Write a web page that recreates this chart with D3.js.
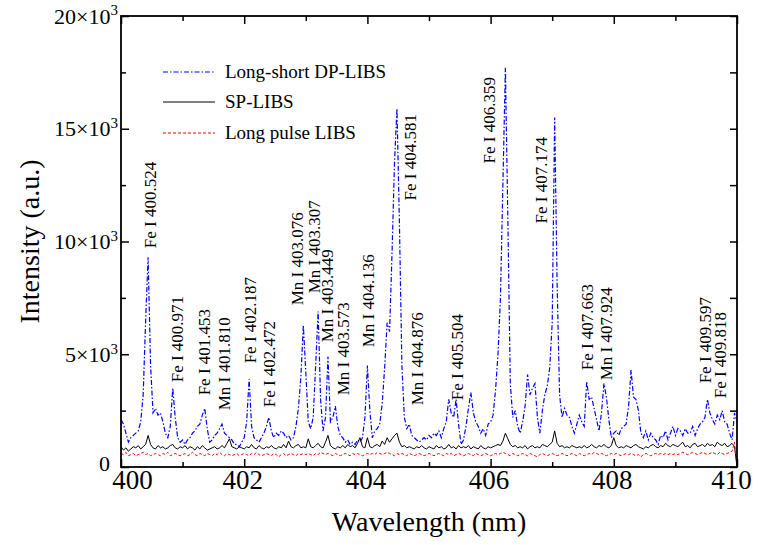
<!DOCTYPE html>
<html><head><meta charset="utf-8">
<script src="https://cdn.jsdelivr.net/npm/d3@7"></script>
<style>
body{margin:0;background:#fff}
svg{display:block}
</style>
</head><body>
<svg id="c" width="758" height="545" style="font-family:'Liberation Serif','DejaVu Serif',serif"></svg>
<script>
// ---- data (wavelength grid: 400.00 .. 410.00 nm, step 0.04 nm; one row = 1 nm) ----
const wlStart = 400, wlStep = 0.04;

const dpLibs = [ // Long-short DP-LIBS
2100,1900,1500,1100,1300,1400,1500,1600,2000,3200,6500,9300,4500,2400,2600,2300,2400,2000,1500,1300,1800,3500,2200,1300,1100,
1200,1000,1200,1300,1500,1600,1800,1900,2300,2600,1700,1100,1200,1400,1500,1700,1900,1500,1400,1300,1200,1000,1000,900,1100,
1300,2000,3900,1800,1300,1200,1100,1300,1500,1800,2200,1600,1300,1500,1400,1600,1500,1300,1400,1200,1300,1800,2600,4000,6300,
4200,2000,1700,2200,4500,6900,3000,1600,2200,4900,2000,2200,2700,1800,1400,1300,1100,1200,1000,1100,1000,1200,1100,1300,2200,
4500,2500,1300,1600,1700,1900,2800,4400,6400,6000,9500,13500,15900,10800,4500,2200,1700,1900,1400,1300,1200,1100,1200,1300,1200,
1400,1300,1500,1400,1600,1300,1700,2000,3000,2400,2200,3000,1900,1000,1200,1800,2600,3300,2400,2000,1800,1500,1700,1400,1900,
2000,2300,3400,5000,7500,12600,17700,11000,3700,2200,2500,1800,1500,2000,2700,4100,3200,3500,3700,2200,1500,2500,3200,3600,4400,
6400,15500,8100,3200,2200,2600,2300,2200,1800,1500,1900,2300,2000,1800,3800,3000,3100,2600,2100,1600,2400,3700,3100,2100,1300,
1500,1600,1400,1700,1800,1900,2700,4300,3100,3000,2500,1500,1300,1600,1200,1500,1300,1200,1000,1400,1300,1600,1200,1500,1800,
1400,1700,1600,1400,1700,1500,1500,1800,1400,1700,1900,2000,2200,3000,2400,2100,1900,2300,2100,2500,2000,1900,1500,1200,2400,
2000];

const spLibs = [ // SP-LIBS
900,750,850,700,800,900,850,950,800,900,1000,1400,1000,850,800,950,850,900,800,850,950,1000,850,800,900,
850,950,800,900,850,750,900,800,950,850,750,800,850,900,800,850,950,850,1050,1250,900,850,800,900,850,
800,900,850,1000,850,800,950,850,800,900,850,950,850,800,900,850,1000,850,1150,900,850,950,1000,850,900,
850,1250,900,850,950,1050,900,850,1100,1400,950,850,800,900,850,950,850,1000,900,950,850,1050,1300,900,850,
1300,900,850,950,1000,900,1150,1000,1300,1100,1250,1400,1500,1100,900,950,850,900,850,800,900,850,950,850,800,
900,850,800,950,850,900,800,850,1000,850,900,800,950,850,900,850,950,800,900,850,800,950,850,800,900,
850,900,950,1000,950,1150,1500,1250,1000,900,950,850,900,850,950,800,900,950,850,900,850,1000,950,900,1000,
1100,1600,1050,900,950,850,900,850,950,900,850,900,850,950,850,900,1000,900,850,950,900,1000,900,850,950,
1300,950,850,900,850,950,900,850,950,1000,900,850,800,900,850,950,1000,900,850,950,900,1050,950,900,1000,
950,900,1000,1100,900,950,850,1000,1050,900,950,1000,900,1050,950,1000,900,1100,1000,950,1050,900,950,1050,900,
0];

const longPulse = [ // Long pulse LIBS
600,550,650,500,550,600,500,550,600,650,550,600,500,550,600,550,500,600,550,650,500,550,600,550,500,
550,600,500,550,650,550,500,600,550,500,600,550,500,600,550,650,550,500,600,550,500,550,600,500,550,
600,550,500,600,550,650,550,500,550,600,550,500,600,550,450,550,600,500,550,600,550,500,600,550,600,
550,600,550,500,600,550,650,600,550,600,550,500,600,550,500,550,600,550,500,600,550,600,550,500,550,
600,550,600,550,650,600,550,600,650,600,550,500,600,550,600,550,500,600,550,500,550,600,550,500,550,
600,550,500,550,600,550,500,600,550,600,500,550,600,550,500,550,600,550,500,600,550,500,550,600,550,
500,550,600,550,600,650,600,550,500,600,550,500,550,600,550,500,600,550,500,450,550,600,550,500,550,
600,550,500,550,600,550,500,550,600,550,500,600,550,500,550,600,550,650,600,550,600,550,500,550,600,
550,600,550,500,550,600,550,600,550,500,550,450,550,600,550,500,550,600,550,600,550,600,550,600,550,
600,550,600,650,600,550,600,650,600,550,600,650,600,550,600,650,600,550,650,600,550,600,650,700,1100,
0];

const seriesNames = ["Long-short DP-LIBS", "SP-LIBS", "Long pulse LIBS"];
const xTicks = [400, 402, 404, 406, 408, 410];
const xMinorTicks = [401, 403, 405, 407, 409];
const yTicks = [0, 5000, 10000, 15000, 20000];
const yMinorTicks = [2500, 7500, 12500, 17500];

const lineLabels = ["Fe I 400.524","Fe I 400.971","Fe I 401.453","Mn I 401.810","Fe I 402.187","Fe I 402.472",
  "Mn I 403.076","Mn I 403.307","Mn I 403.449","Mn I 403.573","Mn I 404.136","Fe I 404.581","Mn I 404.876",
  "Fe I 405.504","Fe I 406.359","Fe I 407.174","Fe I 407.663","Mn I 407.924","Fe I 409.597","Fe I 409.818"];

// ---- layout (label anchors in data coordinates) ----
const labelAnchorWl = [400.568,401.006,401.445,401.769,402.192,402.500,402.955,403.231,403.442,403.701,404.107,
  404.789,404.903,405.552,406.071,406.916,407.662,407.971,409.578,409.821];
const labelAnchorI = [9700,3755,3178,2513,4597,2647,7168,7700,5528,3178,5307,11823,2735,2957,13463,10803,4287,3843,3710,3046];

const FONT = "'Liberation Serif','DejaVu Serif',serif";
const M = {l:121, t:16, r:737, b:467};
const svg = d3.select("#c");
const x = d3.scaleLinear().domain([400, 410]).range([M.l, M.r]);
const y = d3.scaleLinear().domain([0, 20000]).range([M.b, M.t]);

svg.append("defs").append("clipPath").attr("id","clip")
  .append("rect").attr("x",M.l).attr("y",M.t).attr("width",M.r-M.l).attr("height",M.b-M.t);

const line = d3.line().x((d,i)=>x(wlStart + i*wlStep)).y(d=>y(d));
const styles = [
  {data: dpLibs, color: "#0000ff", dash: "5,2,1.5,2", w: 1.2},
  {data: spLibs, color: "#000000", dash: null, w: 1},
  {data: longPulse, color: "#ff0000", dash: "3,2", w: 1}
];
const g = svg.append("g").attr("clip-path","url(#clip)");
[0,1,2].forEach(k=>{
  const s = styles[k];
  g.append("path").datum(s.data).attr("d", line).attr("fill","none")
    .attr("stroke", s.color).attr("stroke-width", s.w)
    .attr("stroke-dasharray", s.dash);
});

function styleAxis(sel){
  sel.attr("font-family", FONT);
  sel.selectAll(".domain").remove();
  sel.selectAll("line").attr("stroke","#000").attr("stroke-width",1.5);
  sel.selectAll("text").attr("fill","#000").style("font-family", FONT);
}
const bx = svg.append("g").attr("transform",`translate(0,${M.b})`)
  .call(d3.axisBottom(x).tickValues(xTicks).tickSizeInner(-8).tickSizeOuter(0).tickPadding(3).tickFormat(d3.format("d")));
styleAxis(bx);
bx.selectAll("text").attr("font-size",27)
  .attr("dx", d => d === 400 ? 11 : (d === 410 ? -6 : -2));
const bxm = svg.append("g").attr("transform",`translate(0,${M.b})`)
  .call(d3.axisBottom(x).tickValues(xMinorTicks).tickSizeInner(-5).tickSizeOuter(0).tickFormat(""));
styleAxis(bxm);
const tx = svg.append("g").attr("transform",`translate(0,${M.t})`)
  .call(d3.axisTop(x).tickValues(xTicks).tickSizeInner(-8).tickSizeOuter(0).tickFormat(""));
styleAxis(tx);
const txm = svg.append("g").attr("transform",`translate(0,${M.t})`)
  .call(d3.axisTop(x).tickValues(xMinorTicks).tickSizeInner(-5).tickSizeOuter(0).tickFormat(""));
styleAxis(txm);

const ly = svg.append("g").attr("transform",`translate(${M.l},0)`)
  .call(d3.axisLeft(y).tickValues(yTicks).tickSizeInner(-8).tickSizeOuter(0).tickPadding(3));
styleAxis(ly);
ly.selectAll("text").each(function(d){
  const t = d3.select(this).text("").attr("font-size",22);
  if (d === 0) { t.text("0").attr("dx",-8).attr("dy","0.15em"); return; }
  t.append("tspan").text((d/1000) + "\u00d710");
  t.append("tspan").attr("dy","-0.55em").attr("font-size",15).text("3");
});
const lym = svg.append("g").attr("transform",`translate(${M.l},0)`)
  .call(d3.axisLeft(y).tickValues(yMinorTicks).tickSizeInner(-5).tickSizeOuter(0).tickFormat(""));
styleAxis(lym);
const ry = svg.append("g").attr("transform",`translate(${M.r},0)`)
  .call(d3.axisRight(y).tickValues(yTicks.concat(yMinorTicks)).tickSizeInner(-7).tickSizeOuter(0).tickFormat(""));
styleAxis(ry);

svg.append("rect").attr("x",M.l).attr("y",M.t).attr("width",M.r-M.l).attr("height",M.b-M.t)
  .attr("fill","none").attr("stroke","#000").attr("stroke-width",1.8);

function txt(sel){ return sel.style("font-family", FONT).attr("fill","#000"); }
txt(svg.append("text")).attr("x",(M.l+M.r)/2).attr("y",531).attr("text-anchor","middle")
  .attr("font-size",28).text("Wavelength (nm)");
txt(svg.append("text")).attr("transform",`translate(39,${(M.t+M.b)/2}) rotate(-90)`).attr("text-anchor","middle")
  .attr("font-size",28).text("Intensity (a.u.)");

const legY = [72, 102, 133];
seriesNames.forEach((n,k)=>{
  const s = styles[k];
  svg.append("line").attr("x1",163).attr("x2",215).attr("y1",legY[k]).attr("y2",legY[k])
    .attr("stroke",s.color).attr("stroke-width",s.w).attr("stroke-dasharray",s.dash);
  txt(svg.append("text")).attr("x",225).attr("y",legY[k]).attr("dy","0.33em").attr("font-size",19).text(n);
});

lineLabels.forEach((t,i)=>{
  txt(svg.append("text"))
    .attr("transform",`translate(${x(labelAnchorWl[i])},${y(labelAnchorI[i])}) rotate(-90)`)
    .attr("font-size",17).text(t);
});
</script>
</body></html>
